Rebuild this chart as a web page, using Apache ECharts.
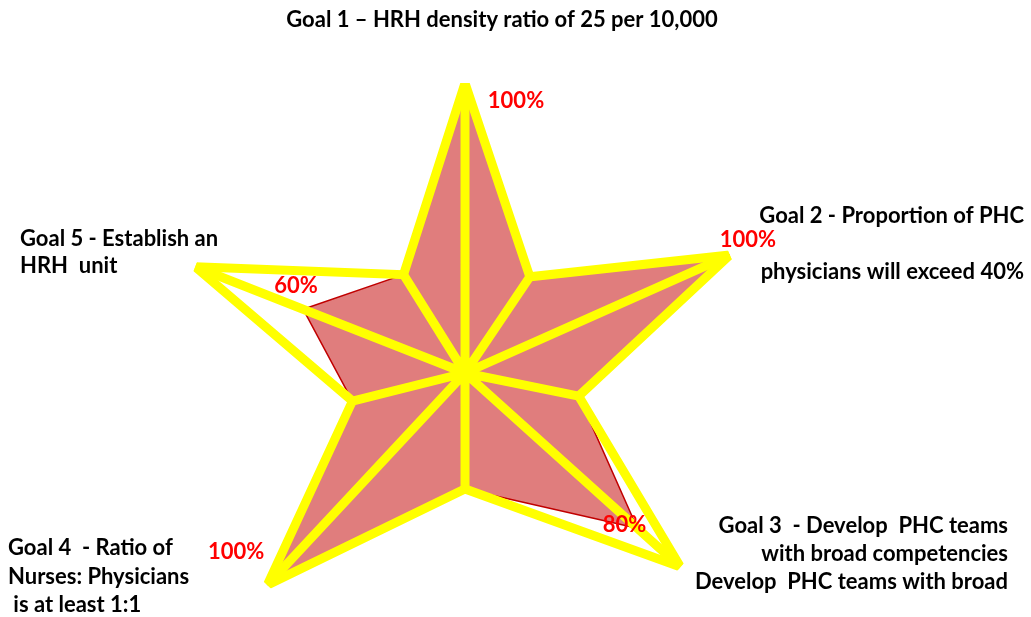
<!DOCTYPE html>
<html>
<head>
<meta charset="utf-8">
<title>HRH goals star</title>
<script src="https://cdn.jsdelivr.net/npm/echarts@6.0.0/dist/echarts.min.js"></script>
<style>
  html, body { margin: 0; padding: 0; background: #fff; }
  #main { width: 1031px; height: 617px; }
</style>
</head>
<body>
<div id="main"></div>
<script>
// achievement of each goal, percent
var goalNames = ['Goal 1', 'Goal 2', 'Goal 3', 'Goal 4', 'Goal 5'];
var goalScores = [100, 100, 80, 100, 60];
var fullScore = 100;
// the star has 10 spokes: goal tip, notch, goal tip, ... (degrees clockwise from top)
var spokeAngles = [0, 34, 66, 101.5, 132, 180, 223, 256, 291.5, 328];
var notchDepth = 40;

var FONT = 'Lato, "Open Sans", sans-serif';

function starPoints(tipValues) {
    var pts = [];
    spokeAngles.forEach(function (a, i) {
        var r = (i % 2 === 0) ? tipValues[i / 2] : notchDepth;
        pts.push([r, a]);
    });
    pts.push(pts[0].slice());
    return pts;
}

// where the % label sits relative to each goal tip
var labelOffsets = [[51, 18], [18, -15], [-13, -3], [-31, -33], [-7, -23]];

var scorePoints = starPoints(goalScores);
var fullStar = starPoints(goalNames.map(function () { return fullScore; }));

// the % labels, one per goal tip
var labelData = goalScores.map(function (s, g) {
    return {
        value: [s, spokeAngles[g * 2]],
        label: { offset: labelOffsets[g] }
    };
});

var spokeData = [];
fullStar.slice(0, spokeAngles.length).forEach(function (p) {
    spokeData.push([0, p[1]]);
    spokeData.push(p);
});
spokeData.push([0, 0]);

var myChart = echarts.init(document.getElementById('main'), null, { renderer: 'canvas' });

var blackText = function (x, y, text, align, lh) {
    return {
        type: 'text',
        x: x,
        y: y,
        z: 10,
        style: {
            text: text,
            fill: '#000',
            font: 'bold 22px ' + FONT,
            textAlign: align,
            textVerticalAlign: 'top',
            lineHeight: lh
        }
    };
};

var option = {
    animation: false,
    backgroundColor: '#fff',
    polar: {
        center: [465, 373],
        radius: 290
    },
    angleAxis: {
        type: 'value',
        min: 0,
        max: 360,
        startAngle: 90,
        clockwise: true,
        show: false,
        axisLine: { show: false },
        splitLine: { show: false },
        axisTick: { show: false },
        axisLabel: { show: false }
    },
    radiusAxis: {
        type: 'value',
        min: 0,
        max: fullScore,
        show: false,
        axisLine: { show: false },
        splitLine: { show: false },
        axisTick: { show: false },
        axisLabel: { show: false }
    },
    graphic: [
        blackText(502, 7, 'Goal 1 \u2013 HRH density ratio of 25 per 10,000', 'center', 26),
        blackText(1024, 202, 'Goal 2 - Proportion of PHC\n\nphysicians will exceed 40%', 'right', 28),
        blackText(1008, 512, 'Goal 3  - Develop  PHC teams\nwith broad competencies\nDevelop  PHC teams with broad', 'right', 28),
        blackText(8, 534, 'Goal 4  - Ratio of\nNurses: Physicians\n is at least 1:1', 'left', 28.5),
        blackText(20, 225, 'Goal 5 - Establish an\nHRH  unit', 'left', 27)
    ],
    series: [
        {
            name: 'score',
            type: 'line',
            coordinateSystem: 'polar',
            data: scorePoints,
            symbol: 'none',
            clip: false,
            z: 1,
            lineStyle: { color: '#c00000', width: 1.5 },
            areaStyle: { color: '#e07d7d', opacity: 1 }
        },
        {
            name: 'spokes',
            type: 'line',
            coordinateSystem: 'polar',
            data: spokeData,
            symbol: 'none',
            clip: false,
            z: 2,
            lineStyle: { color: '#ffff00', width: 9, join: 'round' }
        },
        {
            name: 'outline',
            type: 'line',
            coordinateSystem: 'polar',
            data: fullStar,
            symbol: 'none',
            clip: false,
            z: 3,
            lineStyle: { color: '#ffff00', width: 9, join: 'miter' }
        },
        {
            name: 'labels',
            type: 'scatter',
            coordinateSystem: 'polar',
            data: labelData,
            symbolSize: 0,
            clip: false,
            z: 4,
            itemStyle: { color: '#ff0000', opacity: 1 },
            label: {
                show: true,
                position: 'inside',
                color: '#ff0000',
                opacity: 1,
                fontWeight: 'bold',
                fontSize: 22,
                fontFamily: FONT,
                formatter: function (p) { return p.value[0] + '%'; }
            }
        }
    ]
};

myChart.setOption(option);
</script>
</body>
</html>
